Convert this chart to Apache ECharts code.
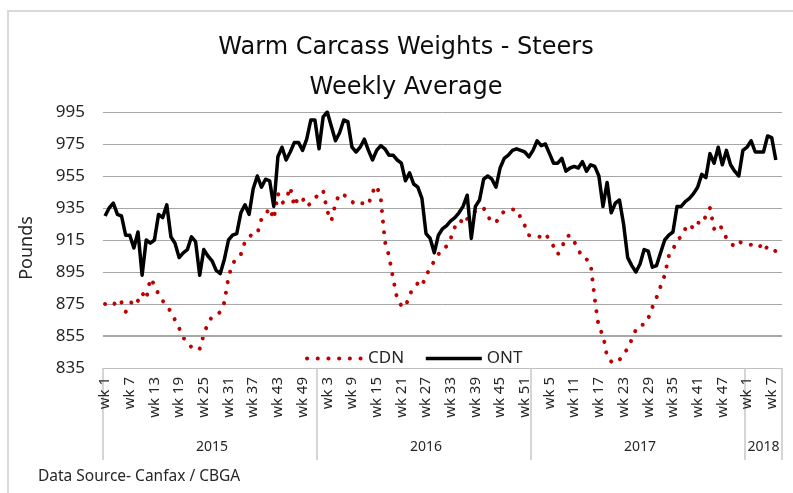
<!DOCTYPE html>
<html>
<head>
<meta charset="utf-8">
<title>Warm Carcass Weights - Steers</title>
<script src="https://cdn.jsdelivr.net/npm/echarts@6/dist/echarts.min.js"></script>
<style>
  html, body { margin: 0; padding: 0; background: #fff; }
  #chart { width: 793px; height: 493px; }
</style>
</head>
<body>
<div id="chart"></div>
<script>
// bottom axis: years and how many weekly slots each one gets
const years = ['2015', '2016', '2017', '2018']
const weeksPerYear = [52, 52, 52, 9]

// Ontario weekly average, lbs
const ont2015 = [930, 935, 938, 931, 930, 918, 918, 910, 920, 893, 915, 913, 915, 931, 929, 937, 917, 913, 904, 907,
  909, 917, 914, 893, 909, 905, 902, 896, 894, 903, 915, 918, 919, 932, 937, 931, 947, 955, 948, 953,
  952, 936, 967, 973, 965, 970, 976, 976, 971, 978, 990, 990]
const ont2016 = [972, 992, 995, 986, 977, 982, 990, 989, 973, 970, 973, 978, 971, 965, 971, 974, 972, 968, 968, 965,
  963, 952, 957, 950, 948, 941, 919, 916, 907, 918, 922, 924, 927, 929, 932, 936, 943, 916, 936, 940,
  953, 955, 953, 948, 960, 966, 968, 971, 972, 971, 970, 967]
const ont2017 = [971, 977, 974, 975, 969, 963, 963, 966, 958, 960, 961, 960, 964, 958, 962, 961, 955, 936, 951, 932,
  938, 940, 925, 904, 899, 895, 900, 909, 908, 898, 899, 907, 915, 918, 920, 936, 936, 939, 941, 944,
  948, 956, 954, 969, 963, 973, 962, 971, 962, 958, 955, 971]
const ont2018 = [973, 977, 970, 970, 970, 980, 979, 965]

// Canada weekly average, lbs
const cdn2015 = [875, 874, 874, 878, 876, 870, 874, 879, 877, 882, 878, 891, 887, 881, 877, 874, 870, 865, 860, 854,
  851, 848, 846, 847, 856, 863, 867, 868, 870, 876, 892, 900, 904, 906, 914, 917, 919, 919, 928, 931,
  935, 928, 944, 938, 940, 948, 936, 942, 941, 936, 938, 941]
const cdn2016 = [944, 946, 933, 927, 938, 944, 943, 942, 939, 937, 938, 938, 937, 945, 949, 941, 914, 905, 891, 878,
  874, 873, 881, 885, 888, 886, 893, 897, 902, 906, 910, 911, 916, 923, 923, 930, 928, 931, 933, 934,
  935, 930, 926, 926, 930, 933, 933, 934, 934, 929, 924, 918]
const cdn2017 = [917, 917, 917, 919, 915, 911, 906, 910, 917, 918, 914, 909, 904, 903, 900, 878, 860, 856, 842, 839,
  838, 840, 844, 847, 853, 859, 862, 862, 866, 873, 879, 886, 893, 905, 909, 915, 917, 922, 925, 922,
  926, 925, 930, 935, 922, 925, 922, 916, 913, 911, 914, 913]
const cdn2018 = [912, 912, 913, 912, 908, 911, 909, 908]

const ont = [].concat(ont2015, ont2016, ont2017, ont2018)
const cdn = [].concat(cdn2015, cdn2016, cdn2017, cdn2018)

// category labels, plus where each year starts and where its label goes
const weekLabels = []
const yearLabels = []
const yearStart = []
const yearMid = []
years.forEach((yr, k) => {
  yearStart.push(weekLabels.length)
  yearMid.push(weekLabels.length + Math.floor(weeksPerYear[k] / 2))
  for (let w = 1; w <= weeksPerYear[k]; w++) {
    weekLabels.push('wk ' + w)
    yearLabels.push(yr)
  }
})

const FONT = 'Noto Sans'
const TEXT = '#262626'

const chart = echarts.init(document.getElementById('chart'))

chart.setOption({
  animation: false,
  textStyle: { fontFamily: FONT },
  title: [
    {
      text: 'Warm Carcass Weights - Steers\nWeekly Average',
      left: 406,
      top: 28,
      textAlign: 'center',
      padding: 0,
      textStyle: { fontFamily: 'DejaVu Sans', fontSize: 24, fontWeight: 'normal', color: '#0d0d0d', lineHeight: 40 }
    },
    {
      text: 'Data Source- Canfax / CBGA',
      left: 38,
      top: 469,
      padding: 0,
      textStyle: { fontSize: 15.5, fontWeight: 'normal', color: TEXT }
    }
  ],
  legend: {
    left: 300,
    top: 345,
    itemWidth: 56,
    itemHeight: 12,
    itemGap: 20,
    itemStyle: { opacity: 0 },
    lineStyle: { width: 'inherit' },
    textStyle: { fontSize: 17, color: TEXT },
    data: ['CDN', 'ONT']
  },
  grid: { left: 103, right: 11, top: 112, bottom: 125 },
  xAxis: [
    {
      type: 'category',
      data: weekLabels,
      axisLine: { lineStyle: { color: '#bfbfbf', width: 1 } },
      axisTick: { show: false },
      axisLabel: { interval: 5, rotate: 90, margin: 9, fontSize: 15, color: TEXT }
    },
    {
      type: 'category',
      data: yearLabels,
      position: 'bottom',
      axisLine: { show: true, lineStyle: { color: 'rgba(0,0,0,0)' } },
      axisTick: {
        show: true,
        interval: (i) => yearStart.includes(i),
        length: 92,
        lineStyle: { color: '#c8c8c8', width: 1.5 }
      },
      axisLabel: { interval: (i) => yearMid.includes(i), margin: 72, fontSize: 14, color: TEXT },
      splitLine: { show: false }
    }
  ],
  yAxis: {
    type: 'value',
    min: 835,
    max: 995,
    interval: 20,
    name: 'Pounds',
    nameLocation: 'middle',
    nameRotate: 90,
    nameGap: 67,
    nameTextStyle: { fontSize: 18, color: TEXT, padding: [0, 16, 0, 0] },
    axisLine: { show: false },
    axisTick: { show: false },
    axisLabel: { fontSize: 17, margin: 18, color: TEXT },
    splitLine: { lineStyle: { color: '#a6a6a6', width: 1 } }
  },
  series: [
    {
      name: 'CDN',
      type: 'line',
      data: cdn,
      symbol: 'none',
      z: 2,
      itemStyle: { color: '#c00000' },
      lineStyle: { color: '#c00000', width: 4, type: [0.1, 10.6], cap: 'round' },
      markLine: {
        silent: true,
        symbol: 'none',
        label: { show: false },
        lineStyle: { color: '#a6a6a6', width: 2, type: 'solid' },
        data: [{ yAxis: 855 }]
      }
    },
    {
      name: 'ONT',
      type: 'line',
      data: ont,
      symbol: 'none',
      z: 3,
      itemStyle: { color: '#000' },
      lineStyle: { color: '#000', width: 3.5, join: 'round' }
    }
  ],
  graphic: [
    {
      // light frame round the chart area, runs off the right and bottom edges
      type: 'rect',
      silent: true,
      shape: { x: 8, y: 11, width: 900, height: 600 },
      style: { fill: null, stroke: '#d9d9d9', lineWidth: 2 }
    }
  ]
})
</script>
</body>
</html>
